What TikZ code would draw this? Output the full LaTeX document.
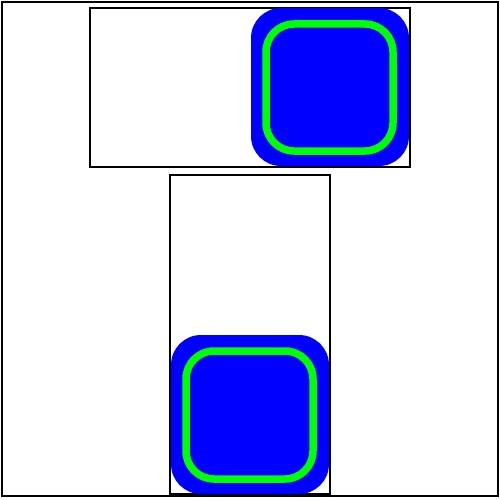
\documentclass[tikz,border=0pt]{standalone}
\definecolor{lime}{RGB}{0,255,0}
\begin{document}
\begin{tikzpicture}[x=1pt,y=-1pt,line width=2pt]
\useasboundingbox (0,0) rectangle (500,500);
\tikzset{frame/.style={draw=black},
  tile/.style={fill=blue,rounded corners=30pt},
  ring/.style={draw=lime,line width=7.5pt,rounded corners=28pt}}
\draw[frame] (2,2) rectangle (498,496);
\draw[frame] (90,8) rectangle (410,167);
\draw[frame] (170,175) rectangle (330,494);
\fill[tile] (251,8) rectangle (409,166);
\draw[ring] (266,24) rectangle (393,151);
\fill[tile] (171,335) rectangle (329,494);
\draw[ring] (186,351) rectangle (313,479);
\end{tikzpicture}
\end{document}
